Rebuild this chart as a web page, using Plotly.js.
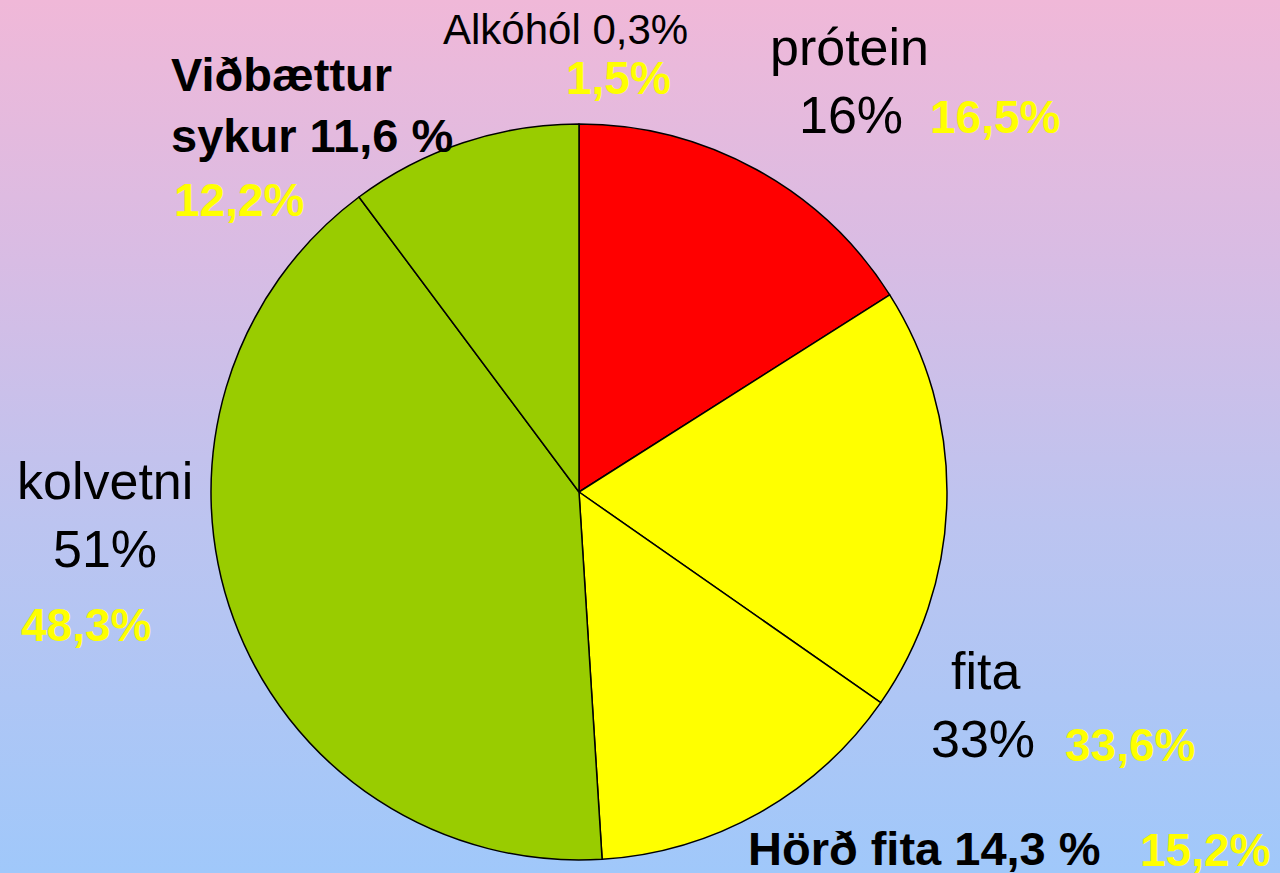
<!DOCTYPE html>
<html>
<head>
<meta charset="utf-8">
<script src="https://cdn.plot.ly/plotly-3.0.1.min.js"></script>
<style>
  html, body { margin: 0; padding: 0; width: 1280px; height: 873px; overflow: hidden; }
  body { background: linear-gradient(to bottom, #F0B8D8 0%, #D8BCE4 30%, #BCC4F0 60%, #A0C8FA 100%); }
  #chart { width: 1280px; height: 873px; }
</style>
</head>
<body>
<div id="chart"></div>
<script>
// Slices (clockwise from 12 o'clock), values
const sliceLabels = ['prótein', 'fita', 'Hörð fita', 'kolvetni', 'Viðbættur sykur'];
const sliceValues = [16, 18.7, 14.3, 40.8, 10.2];
const sliceColors = ['#FF0000', '#FFFF00', '#FFFF00', '#99CC00', '#99CC00'];

// Label texts
const blackTexts = ['Alkóhól 0,3%', 'prótein', '16%', 'kolvetni', '51%', 'fita', '33%'];
const blackPos = [[565, 30, 42], [849, 47, 52], [851, 115, 52], [105, 481, 52], [105, 549, 52], [985, 671, 52], [983, 739, 52]];

const boldTexts = ['Viðbættur<br>sykur 11,6 %', 'Hörð fita 14,3 %'];
const boldPos = [[169, 105, 'left'], [924, 848, 'center']];

const yellowTexts = ['1,5%', '16,5%', '12,2%', '48,3%', '33,6%', '15,2%'];
const yellowPos = [[618, 78, 'center'], [995, 117, 'center'], [172, 200, 'left'], [86, 625, 'center'], [1130, 745, 'center'], [1205, 850, 'center']];

const W = 1280, H = 873;
const cx = 579, cy = 492, R = 368;

const annotations = [];
blackTexts.forEach((t, i) => {
  const p = blackPos[i];
  annotations.push({text: t, x: p[0] / W, y: 1 - p[1] / H, xref: 'paper', yref: 'paper',
    xanchor: 'center', yanchor: 'middle', showarrow: false,
    font: {family: 'Liberation Sans, Arial, sans-serif', size: p[2], color: '#000000'}});
});
boldTexts.forEach((t, i) => {
  const p = boldPos[i];
  annotations.push({text: '<b>' + t + '</b>', x: p[0] / W, y: 1 - p[1] / H, xref: 'paper', yref: 'paper',
    xanchor: p[2], yanchor: 'middle', align: 'left', showarrow: false,
    font: {family: 'Liberation Sans, Arial, sans-serif', size: 47, color: '#000000'}});
});
yellowTexts.forEach((t, i) => {
  const p = yellowPos[i];
  annotations.push({text: '<b>' + t + '</b>', x: p[0] / W, y: 1 - p[1] / H, xref: 'paper', yref: 'paper',
    xanchor: p[2], yanchor: 'middle', showarrow: false,
    font: {family: 'Liberation Sans, Arial, sans-serif', size: 46, color: '#FFFF00'}});
});

const trace = {
  type: 'pie',
  labels: sliceLabels,
  values: sliceValues,
  sort: false,
  direction: 'clockwise',
  rotation: 0,
  textinfo: 'none',
  hoverinfo: 'label+value',
  marker: {colors: sliceColors, line: {color: '#000000', width: 1.5}},
  domain: {x: [(cx - R) / W, (cx + R) / W], y: [(H - cy - R) / H, (H - cy + R) / H]},
  showlegend: false
};

const layout = {
  width: W, height: H,
  margin: {l: 0, r: 0, t: 0, b: 0},
  paper_bgcolor: 'rgba(0,0,0,0)',
  plot_bgcolor: 'rgba(0,0,0,0)',
  showlegend: false,
  annotations: annotations
};

Plotly.newPlot('chart', [trace], layout, {displayModeBar: false, staticPlot: true});
</script>
</body>
</html>
